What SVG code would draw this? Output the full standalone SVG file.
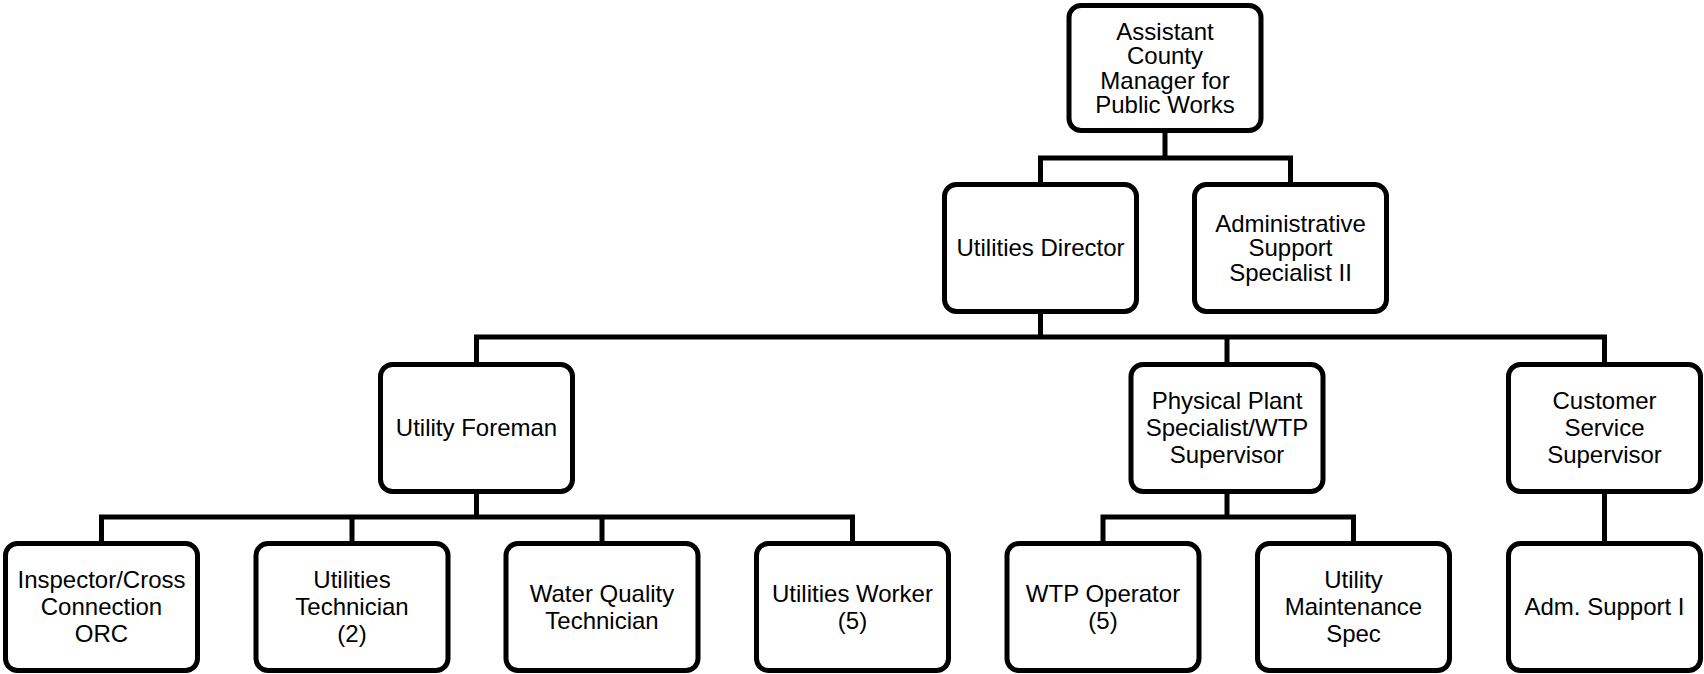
<svg xmlns="http://www.w3.org/2000/svg" width="1704" height="674" viewBox="0 0 1704 674">
<style>
.box{fill:#fff;stroke:#000;stroke-width:5}
.lbl{font-family:"Liberation Sans",Arial,sans-serif;font-size:24px;fill:#000;text-anchor:middle}
.conn{fill:none;stroke:#000;stroke-width:5;stroke-linejoin:miter;stroke-linecap:butt}
</style>
<rect width="1704" height="674" fill="#fff"/>
<g id="connectors" class="conn">
<path d="M1165,131 V158"/>
<path d="M1040.5,185 V158 H1290.5 V185"/>
<path d="M1040.5,311 V337"/>
<path d="M476.5,365 V337 H1604.5 V365"/>
<path d="M1227,337 V365"/>
<path d="M476.5,491 V517"/>
<path d="M101.5,544 V517 H852.5 V544"/>
<path d="M352,517 V544"/>
<path d="M602,517 V544"/>
<path d="M1227,491 V517"/>
<path d="M1103,544 V517 H1353.5 V544"/>
<path d="M1604.5,491 V544"/>
</g>
<g id="n-acm">
<rect class="box" x="1069" y="5.5" width="192" height="125" rx="12"/>
<text class="lbl" x="1165"><tspan x="1165" y="39.6">Assistant</tspan><tspan x="1165" y="64.1">County</tspan><tspan x="1165" y="88.6">Manager for</tspan><tspan x="1165" y="113.1">Public Works</tspan></text>
</g>
<g id="n-ud">
<rect class="box" x="944.5" y="184.5" width="192" height="127" rx="12"/>
<text class="lbl" x="1040.5" y="256.4">Utilities Director</text>
</g>
<g id="n-ass2">
<rect class="box" x="1194.5" y="184.5" width="192" height="127" rx="12"/>
<text class="lbl"><tspan x="1290.5" y="231.9">Administrative</tspan><tspan x="1290.5" y="256.4">Support</tspan><tspan x="1290.5" y="280.9">Specialist II</tspan></text>
</g>
<g id="n-uf">
<rect class="box" x="380.5" y="364.5" width="192" height="127" rx="12"/>
<text class="lbl" x="476.5" y="436.4">Utility Foreman</text>
</g>
<g id="n-pp">
<rect class="box" x="1131" y="364.5" width="192" height="127" rx="12"/>
<text class="lbl"><tspan x="1227" y="409.4">Physical Plant</tspan><tspan x="1227" y="436.4">Specialist/WTP</tspan><tspan x="1227" y="463.4">Supervisor</tspan></text>
</g>
<g id="n-cs">
<rect class="box" x="1508.5" y="364.5" width="192" height="127" rx="12"/>
<text class="lbl"><tspan x="1604.5" y="409.4">Customer</tspan><tspan x="1604.5" y="436.4">Service</tspan><tspan x="1604.5" y="463.4">Supervisor</tspan></text>
</g>
<g id="n-insp">
<rect class="box" x="5.5" y="543.5" width="192" height="127" rx="12"/>
<text class="lbl"><tspan x="101.5" y="588.4">Inspector/Cross</tspan><tspan x="101.5" y="615.4">Connection</tspan><tspan x="101.5" y="642.4">ORC</tspan></text>
</g>
<g id="n-ut">
<rect class="box" x="256" y="543.5" width="192" height="127" rx="12"/>
<text class="lbl"><tspan x="352" y="588.4">Utilities</tspan><tspan x="352" y="615.4">Technician</tspan><tspan x="352" y="642.4">(2)</tspan></text>
</g>
<g id="n-wq">
<rect class="box" x="506" y="543.5" width="192" height="127" rx="12"/>
<text class="lbl"><tspan x="602" y="601.9">Water Quality</tspan><tspan x="602" y="628.9">Technician</tspan></text>
</g>
<g id="n-uw">
<rect class="box" x="756.5" y="543.5" width="192" height="127" rx="12"/>
<text class="lbl"><tspan x="852.5" y="601.9">Utilities Worker</tspan><tspan x="852.5" y="628.9">(5)</tspan></text>
</g>
<g id="n-wtp">
<rect class="box" x="1007" y="543.5" width="192" height="127" rx="12"/>
<text class="lbl"><tspan x="1103" y="601.9">WTP Operator</tspan><tspan x="1103" y="628.9">(5)</tspan></text>
</g>
<g id="n-ums">
<rect class="box" x="1257.5" y="543.5" width="192" height="127" rx="12"/>
<text class="lbl"><tspan x="1353.5" y="588.4">Utility</tspan><tspan x="1353.5" y="615.4">Maintenance</tspan><tspan x="1353.5" y="642.4">Spec</tspan></text>
</g>
<g id="n-as1">
<rect class="box" x="1508.5" y="543.5" width="192" height="127" rx="12"/>
<text class="lbl" x="1604.5" y="615.4">Adm. Support I</text>
</g>
</svg>
